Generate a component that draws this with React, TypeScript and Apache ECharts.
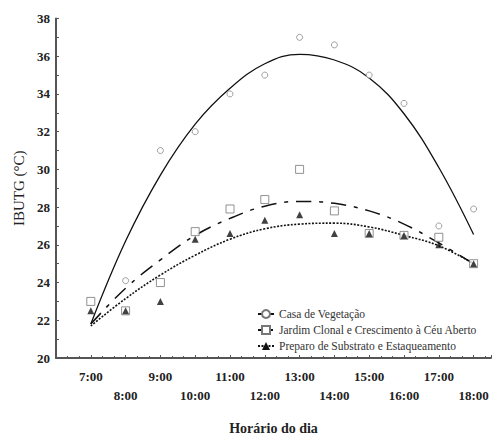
import React, { useEffect, useRef } from "react";
import * as echarts from "echarts";

const hours = [7, 8, 9, 10, 11, 12, 13, 14, 15, 16, 17, 18];
const seriesNames = [
  "Casa de Vegetação",
  "Jardim Clonal e Crescimento à Céu Aberto",
  "Preparo de Substrato e Estaqueamento",
];

// observed points (null = not visible)
const casaObs = [null, 24.1, 31, 32, 34, 35, 37, 36.6, 35, 33.5, 27, 27.9];
const jardimObs = [23, 22.5, 24, 26.7, 27.9, 28.4, 30, 27.8, 26.6, 26.5, 26.4, 25.0];
const preparoObs = [22.5, 22.5, 23.0, 26.3, 26.6, 27.3, 27.6, 26.6, 26.6, 26.5, 26.0, 25.0];

// fitted curves at each hour
const casaFit = [21.8, 26.2, 29.7, 32.4, 34.3, 35.6, 36.1, 35.8, 34.85, 32.95, 30.1, 26.55];
const jardimFit = [21.8, 23.7, 25.2, 26.5, 27.4, 28.05, 28.3, 28.2, 27.8, 27.1, 26.1, 25.0];
const preparoFit = [21.7, 23.15, 24.4, 25.45, 26.3, 26.85, 27.1, 27.15, 26.95, 26.5, 25.95, 25.0];

const yTicks = [20, 22, 24, 26, 28, 30, 32, 34, 36, 38];

const FONT = "Liberation Serif";

const pairs = (vals: (number | null)[]) =>
  hours.map((h, i) => [h, vals[i]]).filter((p) => p[1] !== null);

export default function App() {
  const ref = useRef<HTMLDivElement>(null);
  useEffect(() => {
    if (!ref.current) return;
    const chart = echarts.init(ref.current, null, { renderer: "svg" });
    const axisColor = "#555";
    const option: any = {
      animation: false,
      backgroundColor: "#fff",
      textStyle: { fontFamily: FONT },
      grid: { left: 56, right: 13, top: 18.5, bottom: 74 },
      legend: {
        orient: "vertical",
        left: 252,
        top: 302,
        itemWidth: 16,
        itemHeight: 10,
        itemGap: 2,
        data: seriesNames,
        textStyle: { fontFamily: FONT, fontSize: 11.5, color: "#333", lineHeight: 14 },
      },
      xAxis: {
        type: "value",
        min: 6,
        max: 18.5,
        interval: 1,
        name: "Horário do dia",
        nameLocation: "middle",
        nameGap: 63,
        nameTextStyle: { fontFamily: FONT, fontWeight: "bold", fontSize: 14, color: "#222" },
        axisLine: { show: true, lineStyle: { color: axisColor, width: 2 } },
        axisTick: { show: true, inside: true, length: 3, lineStyle: { color: axisColor } },
        minorTick: { show: true, splitNumber: 3, length: 2, lineStyle: { color: axisColor } },
        splitLine: { show: false },
        minorSplitLine: { show: false },
        axisLabel: {
          fontFamily: FONT,
          fontWeight: "bold",
          fontSize: 13,
          color: "#222",
          margin: 9,
          lineHeight: 19,
          formatter: (v: number) => {
            if (!hours.includes(v)) return "";
            const s = v + ":00";
            return v % 2 === 1 ? s : "\n" + s;
          },
        },
      },
      yAxis: {
        type: "value",
        min: yTicks[0],
        max: yTicks[yTicks.length - 1],
        interval: 2,
        name: "IBUTG (°C)",
        nameLocation: "middle",
        nameGap: 27,
        nameTextStyle: { fontFamily: FONT, fontSize: 15, color: "#222" },
        axisLine: { show: true, lineStyle: { color: axisColor, width: 2 } },
        axisTick: { show: true, inside: true, length: 3, lineStyle: { color: axisColor } },
        minorTick: { show: true, splitNumber: 2, length: 3, lineStyle: { color: axisColor } },
        splitLine: { show: false },
        axisLabel: { fontFamily: FONT, fontWeight: "bold", fontSize: 13, color: "#222", margin: 6 },
      },
      series: [
        {
          name: seriesNames[0],
          type: "line",
          smooth: 0.4,
          showSymbol: false,
          symbol: "emptyCircle",
          symbolSize: 6,
          itemStyle: { color: "#777" },
          lineStyle: { color: "#111", width: 1.3, type: "solid" },
          data: pairs(casaFit),
          z: 3,
        },
        {
          name: seriesNames[1],
          type: "line",
          smooth: 0.4,
          showSymbol: false,
          symbol: "emptyRect",
          symbolSize: 7,
          itemStyle: { color: "#777" },
          lineStyle: { color: "#111", width: 1.5, type: [15, 8, 4, 8] },
          data: pairs(jardimFit),
          z: 3,
        },
        {
          name: seriesNames[2],
          type: "line",
          smooth: 0.4,
          showSymbol: false,
          symbol: "triangle",
          symbolSize: 6,
          itemStyle: { color: "#111" },
          lineStyle: { color: "#111", width: 1.6, type: [2, 1.5] },
          data: pairs(preparoFit),
          z: 3,
        },
        {
          name: seriesNames[0],
          type: "scatter",
          symbol: "circle",
          symbolSize: 6,
          itemStyle: { color: "#fff", borderColor: "#888", borderWidth: 1 },
          data: pairs(casaObs),
          z: 4,
        },
        {
          name: seriesNames[1],
          type: "scatter",
          symbol: "rect",
          symbolSize: 8,
          itemStyle: { color: "#fff", borderColor: "#777", borderWidth: 1 },
          data: pairs(jardimObs),
          z: 4,
        },
        {
          name: seriesNames[2],
          type: "scatter",
          symbol: "triangle",
          symbolSize: 7,
          itemStyle: { color: "#111" },
          data: pairs(preparoObs),
          z: 5,
        },
      ],
    };
    chart.setOption(option);
    return () => chart.dispose();
  }, []);
  return (
    <div
      ref={ref}
      style={{ position: "fixed", left: 0, top: 0, width: 504, height: 440, background: "#fff" }}
    />
  );
}
